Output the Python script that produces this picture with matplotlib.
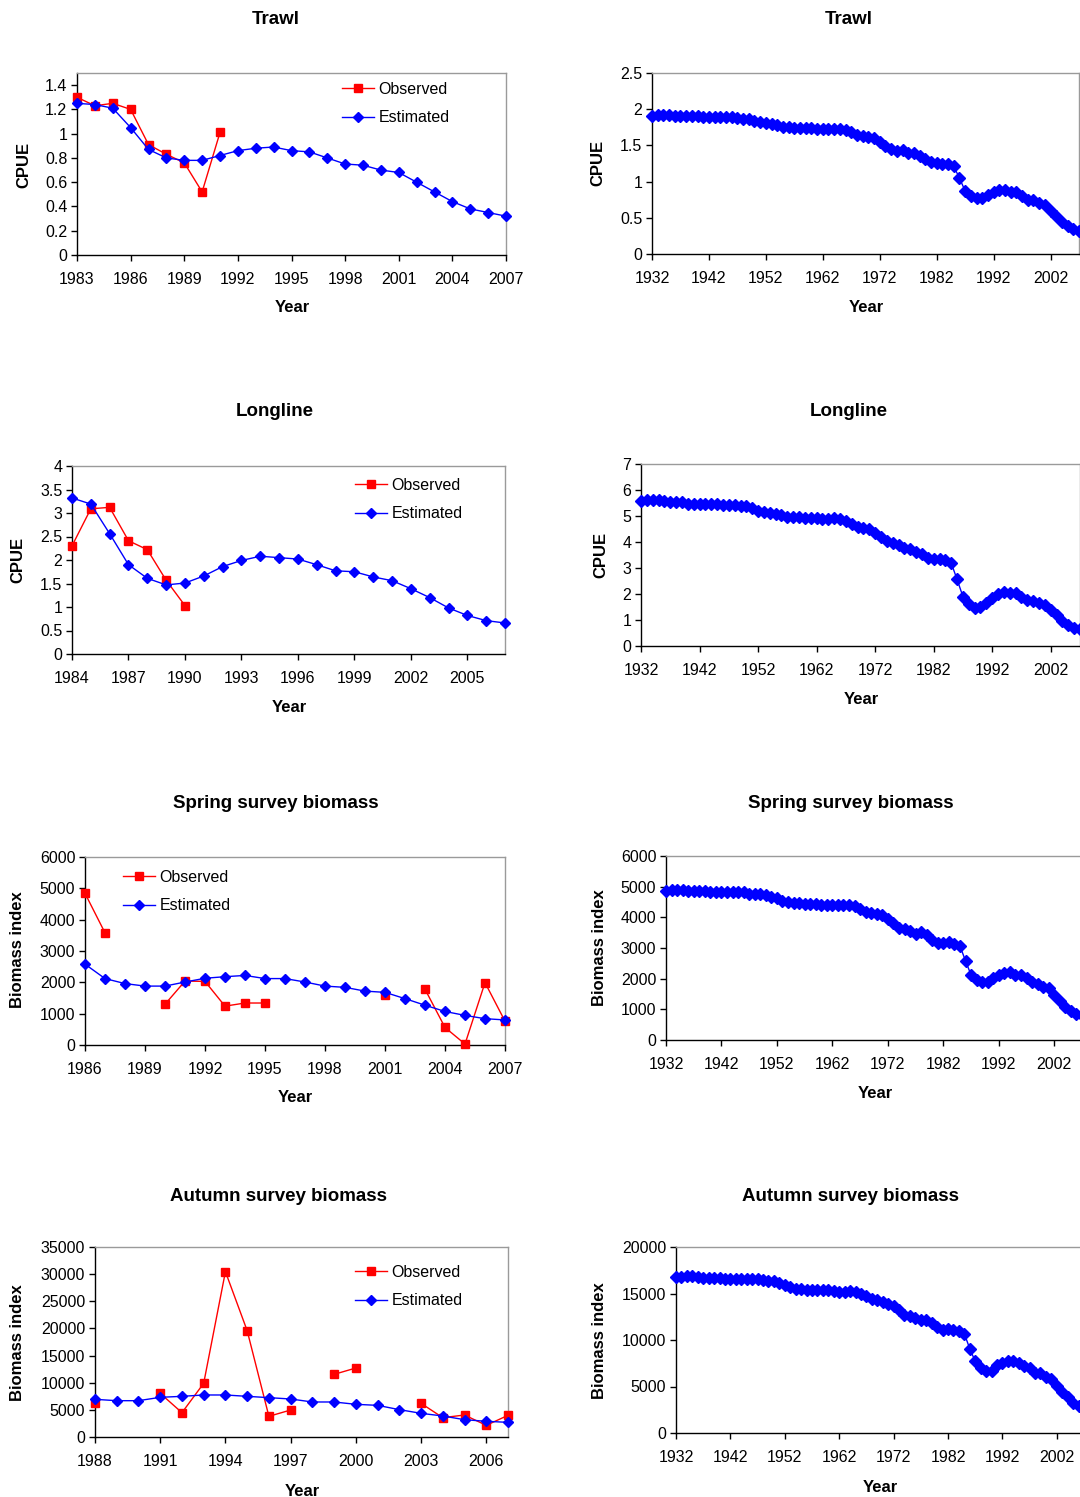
import numpy as np
import matplotlib
matplotlib.use('Agg')
import matplotlib.pyplot as plt

plt.rcParams['font.family'] = ['Liberation Sans', 'DejaVu Sans']

nan = np.nan
W, H = 1080, 1497

# ---------------- data ----------------
trawl_years = list(range(1983, 2008))
trawl_obs = [1.30, 1.23, 1.25, 1.20, 0.91, 0.83, 0.76, 0.52, 1.01] + [nan] * 16
trawl_est = [1.25, 1.24, 1.21, 1.05, 0.87, 0.80, 0.78, 0.78, 0.82, 0.86, 0.88, 0.89,
             0.86, 0.85, 0.80, 0.75, 0.74, 0.70, 0.68, 0.60, 0.52, 0.44, 0.38, 0.35, 0.32]

long_years = list(range(1932, 2008))
trawl_long = [1.91, 1.92, 1.92, 1.92, 1.90, 1.90, 1.90, 1.90, 1.90, 1.89, 1.89, 1.89, 1.89,
              1.89, 1.89, 1.88, 1.87, 1.86, 1.84, 1.83, 1.81, 1.79, 1.78, 1.76, 1.76, 1.74,
              1.74, 1.74, 1.74, 1.73, 1.73, 1.72, 1.72, 1.73, 1.71, 1.68, 1.65, 1.63, 1.62,
              1.60, 1.55, 1.49, 1.45, 1.42, 1.43, 1.39, 1.39, 1.35, 1.31, 1.27, 1.26,
              1.25, 1.24, 1.21, 1.05, 0.87, 0.80, 0.78, 0.78, 0.82, 0.86, 0.88, 0.89,
              0.86, 0.85, 0.80, 0.75, 0.74, 0.70, 0.68, 0.60, 0.52, 0.44, 0.38, 0.35, 0.32]

longline_years = list(range(1984, 2008))
longline_obs = [2.30, 3.09, 3.12, 2.41, 2.22, 1.57, 1.03] + [nan] * 17
longline_est = [3.32, 3.19, 2.56, 1.90, 1.61, 1.47, 1.51, 1.66, 1.86, 1.99, 2.08, 2.05,
                2.02, 1.90, 1.77, 1.75, 1.64, 1.56, 1.39, 1.20, 0.98, 0.82, 0.71, 0.66]
longline_long = [5.59, 5.60, 5.61, 5.60, 5.56, 5.53, 5.55, 5.55, 5.48, 5.48, 5.48, 5.48, 5.48,
                 5.48, 5.43, 5.43, 5.41, 5.38, 5.38, 5.30, 5.21, 5.17, 5.11, 5.07, 5.02, 4.97,
                 4.97, 4.97, 4.94, 4.94, 4.92, 4.89, 4.89, 4.92, 4.89, 4.79, 4.70, 4.57, 4.54,
                 4.49, 4.35, 4.20, 4.04, 3.95, 3.90, 3.78, 3.72, 3.63, 3.54, 3.40, 3.35, 3.35,
                 3.32, 3.19, 2.56, 1.90, 1.61, 1.47, 1.51, 1.66, 1.86, 1.99, 2.08, 2.05,
                 2.02, 1.90, 1.77, 1.75, 1.64, 1.56, 1.39, 1.20, 0.98, 0.82, 0.71, 0.66]

spring_years = list(range(1986, 2008))
spring_obs = [4840, 3580, nan, nan, 1300, 2040, 2030, 1240, 1340, 1340, nan, nan, nan, nan,
              nan, 1610, nan, 1780, 560, 30, 1990, 760]
spring_est = [2580, 2120, 1960, 1880, 1880, 2010, 2130, 2180, 2220, 2120, 2120, 2010, 1880,
              1840, 1720, 1680, 1480, 1270, 1070, 945, 840, 800]
spring_long = [4870, 4880, 4900, 4890, 4850, 4850, 4860, 4860, 4830, 4815, 4815, 4825, 4815,
               4815, 4815, 4770, 4770, 4770, 4720, 4660, 4620, 4530, 4500, 4470, 4470, 4435,
               4435, 4425, 4410, 4390, 4390, 4390, 4390, 4400, 4360, 4260, 4185, 4140, 4110,
               4065, 3960, 3830, 3650, 3610, 3565, 3470, 3520, 3410, 3250, 3175, 3175, 3185,
               3140, 3065,
               2580, 2120, 1960, 1880, 1880, 2010, 2130, 2180, 2220, 2120, 2120, 2010, 1880,
               1840, 1720, 1680, 1480, 1270, 1070, 945, 840, 800]

autumn_years = list(range(1988, 2008))
autumn_obs = [6320, nan, nan, 8040, 4480, 9890, 30460, 19590, 3810, 4970, nan, 11540, 12710,
              nan, nan, 6200, 3560, 4050, 2150, 3990]
autumn_est = [6940, 6690, 6690, 7310, 7490, 7740, 7740, 7490, 7250, 7000, 6450, 6450, 6020,
              5830, 5040, 4360, 3870, 3190, 2890, 2700]
autumn_long = [16810, 16810, 16850, 16880, 16810, 16700, 16670, 16700, 16670, 16560, 16560,
               16600, 16560, 16560, 16560, 16600, 16450, 16380, 16310, 16130, 15910, 15660,
               15480, 15480, 15410, 15340, 15340, 15410, 15340, 15270, 15200, 15200, 15230,
               15160, 14980, 14700, 14440, 14340, 14120, 13840, 13620, 13230, 12690, 12580,
               12370, 12190, 12120, 11830, 11400, 11110, 11180, 11110, 11000, 10680, 9070, 7710,
               6940, 6690, 6690, 7310, 7490, 7740, 7740, 7490, 7250, 7000, 6450, 6450, 6020,
               5830, 5040, 4360, 3870, 3190, 2890, 2700]

# ---------------- figure ----------------
fig = plt.figure(figsize=(W / 100, H / 100), dpi=100)
RED = '#FF0000'
BLUE = '#0000FF'
TICK_FS = 11.5


def px_axes(l, t, r, b):
    return fig.add_axes([l / W, 1 - b / H, (r - l) / W, (b - t) / H])


def style(ax, ylim, yticks, xlim, xticks):
    ax.set_xlim(*xlim)
    ax.set_ylim(*ylim)
    ax.set_yticks(yticks)
    ax.set_yticklabels(['%g' % v for v in yticks])
    ax.set_xticks(xticks)
    ax.set_xticklabels([str(v) for v in xticks])
    for s in ['top', 'right']:
        ax.spines[s].set_color('#9a9a9a')
        ax.spines[s].set_linewidth(1.0)
    for s in ['left', 'bottom']:
        ax.spines[s].set_color('black')
        ax.spines[s].set_linewidth(1.0)
    ax.tick_params(axis='both', direction='out', length=4, width=1, labelsize=TICK_FS,
                   colors='black')
    ax.tick_params(axis='x', pad=8)
    ax.tick_params(axis='y', pad=3)


def texts(title_xy, ylab, ylab_xy, xlab_xy):
    fig.text(title_xy[0] / W, 1 - (title_xy[1] + 1.5) / H, title_xy[2], ha='center',
             va='center', fontsize=13.5, fontweight='bold')
    fig.text(ylab_xy[0] / W, 1 - ylab_xy[1] / H, ylab, ha='center', va='center',
             rotation=90, fontsize=12, fontweight='bold')
    fig.text(xlab_xy[0] / W, 1 - (xlab_xy[1] + 1) / H, 'Year', ha='center', va='center',
             fontsize=12, fontweight='bold')


def left_panel(box, years, obs, est, ylim, yticks, xticks, leg_xy):
    ax = px_axes(*box)
    ax.plot(years, obs, color=RED, lw=1.0, marker='s', ms=5.5, mec=RED, mfc=RED,
            label='Observed', clip_on=False, zorder=3)
    ax.plot(years, est, color=BLUE, lw=1.0, marker='D', ms=5, mec=BLUE, mfc=BLUE,
            label='Estimated', clip_on=False, zorder=4)
    style(ax, ylim, yticks, (years[0], years[-1]), xticks)
    ax.legend(loc='upper left', bbox_to_anchor=(leg_xy[0] / W, 1 - (leg_xy[1] + 3) / H),
              bbox_transform=fig.transFigure, frameon=False, borderpad=0,
              handletextpad=0.3, labelspacing=0.82, handlelength=2.0,
              fontsize=TICK_FS, borderaxespad=0)
    return ax


def right_panel(box, years, vals, ylim, yticks):
    ax = px_axes(*box)
    ax.plot(years, vals, color=BLUE, lw=1.0, marker='D', ms=6, mec=BLUE, mfc=BLUE,
            clip_on=False, zorder=4)
    style(ax, ylim, yticks, (years[0], years[-1]), list(range(1932, 2007, 10)))
    return ax


# Row 1: Trawl
left_panel((77, 73, 506, 255), trawl_years, trawl_obs, trawl_est, (0, 1.5),
           [0, 0.2, 0.4, 0.6, 0.8, 1.0, 1.2, 1.4], list(range(1983, 2008, 3)), (342, 79))
texts((276, 18, 'Trawl'), 'CPUE', (24, 165), (292, 307))
right_panel((652, 73, 1079, 254), long_years, trawl_long, (0, 2.5),
            [0, 0.5, 1, 1.5, 2, 2.5])
texts((849, 18, 'Trawl'), 'CPUE', (598, 163), (866, 306))

# Row 2: Longline
left_panel((72, 466, 505, 654), longline_years, longline_obs, longline_est, (0, 4),
           [0, 0.5, 1, 1.5, 2, 2.5, 3, 3.5, 4], list(range(1984, 2007, 3)), (355, 475))
texts((275, 410, 'Longline'), 'CPUE', (18, 560), (289, 706))
right_panel((641, 464, 1080, 646), long_years, longline_long, (0, 7),
            [0, 1, 2, 3, 4, 5, 6, 7])
texts((849, 410, 'Longline'), 'CPUE', (601, 555), (861, 698))

# Row 3: Spring survey
left_panel((85, 857, 505, 1045), spring_years, spring_obs, spring_est, (0, 6000),
           [0, 1000, 2000, 3000, 4000, 5000, 6000], list(range(1986, 2008, 3)), (123, 867))
texts((276, 802, 'Spring survey biomass'), 'Biomass index', (18, 950), (295, 1097))
right_panel((666, 856, 1082, 1040), long_years, spring_long, (0, 6000),
            [0, 1000, 2000, 3000, 4000, 5000, 6000])
texts((851, 802, 'Spring survey biomass'), 'Biomass index', (600, 948), (875, 1092))

# Row 4: Autumn survey
left_panel((95, 1247, 508, 1437), autumn_years, autumn_obs, autumn_est, (0, 35000),
           [0, 5000, 10000, 15000, 20000, 25000, 30000, 35000], list(range(1988, 2007, 3)),
           (355, 1262))
texts((278, 1195, 'Autumn survey biomass'), 'Biomass index', (18, 1343), (302, 1490))
right_panel((676, 1247, 1084, 1433), long_years, autumn_long, (0, 20000),
            [0, 5000, 10000, 15000, 20000])
texts((851, 1195, 'Autumn survey biomass'), 'Biomass index', (600, 1341), (880, 1486))

fig.savefig('out.png', dpi=100, facecolor='white')
